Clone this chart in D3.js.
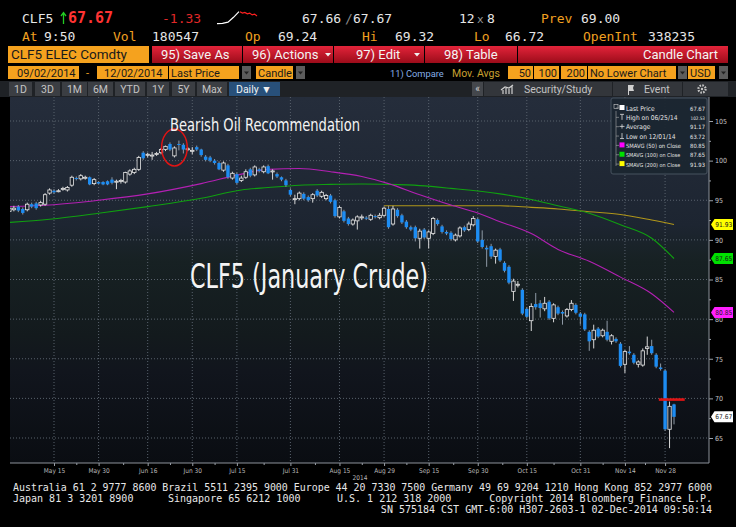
<!DOCTYPE html>
<html>
<head>
<meta charset="utf-8">
<script src="https://cdn.jsdelivr.net/npm/d3@7"></script>
<style>
  body { margin: 0; background: #000; }
  svg { display: block; }
</style>
</head>
<body>
<svg id="chart"></svg>
<script>
const width = 736;
const height = 527;
const plot = { left: 10, right: 709, top: 97, bottom: 463 };

const fontMono = "'DejaVu Sans Mono', 'Liberation Mono', monospace";
const fontUi = "Roboto, 'Open Sans', sans-serif";
const fontNarrow = "'Liberation Sans Narrow', 'DejaVu Sans Condensed', 'Roboto Condensed', Roboto, sans-serif";

// daily candles, May 1 - Dec 2 2014 (trading day index 0..149)
const opens = [93.6,93.8,94.2,93.9,93.8,94.5,94.6,94.4,94.5,95.9,96.2,96.1,96.4,96.3,96.9,97.8,97.7,97.8,97.9,97.1,
  97.3,97.3,97.4,97.6,97.3,97.4,97.3,98.3,98.5,98.9,101.0,100.7,100.6,100.8,101.0,101.4,102.1,100.6,102.1,102.0,
  101.4,101.2,101.7,101.4,100.5,100.4,100.0,99.7,98.8,99.4,97.8,98.3,97.5,97.9,98.9,98.2,98.9,98.6,99.3,98.6,
  98.3,97.9,97.5,96.3,95.1,95.2,95.8,95.4,95.2,96.2,95.5,95.2,95.6,95.0,92.9,93.6,92.7,92.0,92.4,92.8,
  92.8,92.6,93.0,92.8,93.1,93.9,92.0,93.8,93.1,92.3,91.6,91.6,90.2,91.3,90.2,90.8,92.5,91.7,91.0,90.9,
  90.0,90.5,91.6,91.3,91.9,92.6,90.0,89.0,89.2,87.9,88.8,87.1,86.6,83.5,84.3,83.7,81.3,79.8,81.9,82.0,
  81.3,82.2,80.1,81.5,80.9,80.4,81.2,81.8,80.7,80.6,78.4,77.4,78.8,77.9,78.4,77.2,77.5,76.9,74.3,75.9,
  75.5,74.3,74.2,76.3,76.6,75.5,73.9,73.5,66.1,69.24];
const highs = [94.2,94.3,94.4,94.1,94.7,94.7,94.8,94.9,95.9,96.5,96.4,96.4,96.7,96.8,98.1,98.0,98.3,98.1,98.0,97.8,
  97.4,97.4,97.5,97.9,97.6,97.7,98.6,98.9,99.1,100.6,101.2,101.0,101.1,101.1,101.6,101.9,102.3,101.8,102.53,102.2,
  101.7,101.7,101.9,101.5,100.7,100.6,100.2,99.9,99.9,99.6,98.6,98.5,98.1,98.9,99.1,99.4,99.1,99.4,99.5,98.9,
  98.5,98.0,97.7,96.5,95.7,96.1,96.0,95.6,95.9,96.4,96.2,95.8,95.8,95.2,94.3,93.8,92.9,92.7,93.1,93.2,
  93.0,93.3,93.2,93.4,94.2,94.3,94.3,94.0,93.3,92.5,91.8,91.8,91.4,91.5,91.2,92.9,92.7,91.9,91.2,91.1,
  90.8,91.7,91.8,92.3,93.0,92.8,91.2,89.3,89.5,88.9,89.0,87.3,86.8,85.1,84.8,83.9,81.5,82.0,83.3,82.4,
  82.8,82.4,82.0,81.7,81.1,81.4,82.4,82.0,80.9,80.8,78.6,79.3,79.0,78.8,79.8,78.1,77.7,77.1,76.1,76.6,
  75.7,74.8,76.3,77.8,77.4,75.7,74.4,73.7,69.6,69.32];
const lows = [93.4,93.6,93.5,93.2,93.6,94.0,93.8,94.2,94.3,95.7,95.8,96.0,96.2,96.1,96.7,97.5,97.5,97.6,96.9,96.9,
  97.0,96.9,96.9,97.0,96.4,97.1,97.1,98.1,98.3,98.7,100.1,100.4,100.1,100.6,100.8,101.2,101.2,100.4,101.3,100.9,
  101.2,100.8,101.2,100.5,99.9,99.8,99.5,98.8,98.6,97.7,97.6,97.0,97.3,97.7,97.9,98.0,98.5,98.4,98.3,97.6,
  97.8,97.4,96.7,95.5,94.5,95.0,95.0,94.8,94.7,95.4,95.3,95.0,94.6,92.8,92.7,92.2,91.8,91.8,91.3,92.5,
  92.5,92.4,92.7,92.6,92.9,91.4,91.8,92.8,92.0,91.4,91.1,89.8,88.9,90.1,88.9,90.6,91.8,90.8,90.6,89.9,
  89.8,90.3,91.0,91.1,91.7,89.6,88.9,86.6,87.6,87.0,87.2,85.9,84.4,82.3,84.0,80.5,80.1,78.5,81.2,80.2,
  81.0,79.9,79.6,80.5,79.3,80.2,81.0,80.6,79.3,78.5,76.0,76.3,77.6,77.7,77.2,76.8,77.0,73.9,73.2,75.5,
  74.3,73.9,74.0,75.5,75.5,73.8,73.5,65.9,63.72,66.72];
const closes = [94.0,94.0,93.7,93.4,94.5,94.2,94.0,94.7,95.7,96.3,96.0,96.2,96.5,96.6,97.9,97.7,98.1,97.9,97.0,97.6,
  97.1,97.0,97.0,97.2,97.4,97.5,98.5,98.7,98.9,100.4,100.3,100.8,100.7,100.9,101.4,101.8,101.4,101.6,102.0,101.4,
  101.5,101.3,101.4,100.7,100.1,100.0,99.7,98.9,99.7,97.9,98.4,97.2,97.8,98.6,98.1,99.2,98.7,99.2,98.4,98.7,
  98.0,97.6,96.9,95.7,95.2,95.9,95.2,95.0,95.7,95.6,96.0,95.6,94.8,93.0,94.1,92.4,92.0,92.5,92.9,92.9,
  92.7,93.1,92.9,93.1,94.0,91.6,93.9,93.0,92.2,91.6,91.3,90.2,91.1,90.3,91.0,92.7,92.0,91.0,90.8,90.1,
  90.6,91.5,91.2,92.0,92.7,89.8,89.1,88.8,87.9,88.7,87.4,86.1,84.6,84.8,84.4,80.7,80.3,81.6,81.5,81.4,
  82.0,80.1,81.8,80.7,80.7,81.2,82.0,80.8,80.3,78.7,77.2,78.6,77.8,78.6,77.4,77.9,77.2,74.1,75.9,75.7,
  74.5,74.6,76.0,76.5,75.7,74.0,73.7,66.1,69.0,67.67];

// moving averages as [day index, value]
const sma50 = [[0,94.2],[9,94.4],[20,95.0],[31,95.8],[43,97.1],[52,98.3],[58,98.9],[65,99.0],[72,98.6],[79,98.0],
  [85,97.1],[92,95.7],[99,94.4],[105,93.4],[110,92.3],[117,90.8],[123,88.8],[130,87.3],[137,85.3],[144,83.2],[149,80.85]];
const sma100 = [[0,92.2],[9,92.6],[20,93.35],[31,94.2],[43,95.25],[52,96.3],[58,96.6],[65,96.9],[72,97.0],[79,97.05],
  [85,97.0],[92,96.85],[99,96.5],[110,95.8],[117,95.1],[123,94.3],[130,93.35],[137,91.9],[144,90.2],[149,87.65]];
const sma200 = [[84,94.3],[92,94.3],[99,94.3],[110,94.3],[117,94.1],[123,93.9],[130,93.55],[137,93.2],[144,92.5],[149,91.93]];

const xAxisDays = [10, 20, 31, 41, 51, 63, 74, 84, 94, 105, 116, 128, 138, 147];
const xAxisLabels = ['May 15', 'May 30', 'Jun 16', 'Jun 30', 'Jul 15', 'Jul 31', 'Aug 15', 'Aug 29',
  'Sep 15', 'Sep 30', 'Oct 15', 'Oct 31', 'Nov 14', 'Nov 28'];
const priceTicks = [65, 70, 75, 80, 85, 90, 95, 100, 105];
const minorTicks = [67.5, 72.5, 77.5, 82.5, 87.5, 92.5, 97.5, 102.5];

const legendRows = [
  { label: 'Last Price', value: '67.67', icon: 'box', color: '#ffffff' },
  { label: 'High on 06/25/14', value: '102.53', icon: 'high', color: '#dddddd' },
  { label: 'Average', value: '91.17', icon: 'avg', color: '#dddddd' },
  { label: 'Low on 12/01/14', value: '63.72', icon: 'low', color: '#dddddd' },
  { label: 'SMAVG (50) on Close', value: '80.85', icon: 'box', color: '#ff00ff' },
  { label: 'SMAVG (100) on Close', value: '87.65', icon: 'box', color: '#00e000' },
  { label: 'SMAVG (200) on Close', value: '91.93', icon: 'box', color: '#ffff00' }
];
const lastTags = [
  { value: 91.93, color: '#ffff00' },
  { value: 87.65, color: '#00e000' },
  { value: 80.85, color: '#ff20ff' },
  { value: 67.67, color: '#ffffff' }
];
const sparkWhite = [0.1, 0.12, 0.2, 0.55, 0.95];
const sparkRed = [0.95, 0.85, 0.9, 0.8, 0.85, 0.72, 0.78, 0.65];

const svg = d3.select('#chart')
    .attr('width', width)
    .attr('height', height);

svg.append('rect').attr('width', width).attr('height', height).attr('fill', '#000');

const defs = svg.append('defs');
const redGrad = defs.append('linearGradient').attr('id', 'redBtn').attr('x1', 0).attr('x2', 0).attr('y1', 0).attr('y2', 1);
redGrad.append('stop').attr('offset', 0).attr('stop-color', '#e3243a');
redGrad.append('stop').attr('offset', 1).attr('stop-color', '#9c0c1a');
const bgGrad = defs.append('linearGradient').attr('id', 'plotBg').attr('x1', 0).attr('x2', 0).attr('y1', 0).attr('y2', 1);
[[0, '#252d3b'], [0.35, '#1d2531'], [0.45, '#172123'], [0.65, '#131a1d'], [0.75, '#11151d'], [1, '#0a0d12']]
  .forEach(([o, c]) => bgGrad.append('stop').attr('offset', o).attr('stop-color', c));
defs.append('clipPath').attr('id', 'clip')
  .append('rect')
  .attr('x', plot.left).attr('y', plot.top)
  .attr('width', plot.right - plot.left).attr('height', plot.bottom - plot.top);

function label(g, x, y, s, fill, size, family, anchor = 'start', weight = 'normal') {
  return g.append('text')
    .attr('x', x).attr('y', y)
    .attr('fill', fill)
    .attr('font-size', size)
    .attr('font-family', family)
    .attr('font-weight', weight)
    .attr('text-anchor', anchor)
    .text(s);
}
// shrink the font of a text until it fits maxW
function fit(t, maxW) {
  let size = +t.attr('font-size');
  while (t.node().getComputedTextLength() > maxW && size > 4) {
    size -= 0.2;
    t.attr('font-size', size);
  }
  return t;
}
function box(g, x, y, w, h, fill) {
  return g.append('rect').attr('x', x).attr('y', y).attr('width', w).attr('height', h).attr('fill', fill);
}
function dropdown(g, x, y, w, h) {
  box(g, x, y, w, h, '#5c5c5c');
  g.append('path')
    .attr('d', `M${x + w / 2 - 2.5},${y + h / 2 - 1} L${x + w / 2 + 2.5},${y + h / 2 - 1} L${x + w / 2},${y + h / 2 + 2} Z`)
    .attr('fill', '#222');
}

// ---- header ----
const header = svg.append('g');
const white = '#e6e6e6';
const amber = '#f0a020';

label(header, 22, 23, 'CLF5', white, 13, fontMono);
header.append('path').attr('d', 'M63.5,24 L63.5,13 M61,16 L63.5,12.5 L66,16')
  .attr('stroke', '#22cc22').attr('stroke-width', 1.3).attr('fill', 'none');
label(header, 68, 23, '67.67', '#ff3333', 15, fontMono, 'start', 'bold');
label(header, 162, 23, '-1.33', '#e02828', 13, fontMono);

const sx1 = d3.scaleLinear().domain([0, sparkWhite.length - 1]).range([217, 239]);
const sx2 = d3.scaleLinear().domain([0, sparkRed.length - 1]).range([240, 257]);
const sy = d3.scaleLinear().domain([0, 1]).range([25, 11]);
header.append('path').datum(sparkWhite)
  .attr('d', d3.line().x((d, i) => sx1(i)).y(d => sy(d)))
  .attr('fill', 'none').attr('stroke', '#ffffff').attr('stroke-width', 1.2);
header.append('path').datum(sparkRed)
  .attr('d', d3.line().x((d, i) => sx2(i)).y(d => sy(d)))
  .attr('fill', 'none').attr('stroke', '#ff2020').attr('stroke-width', 1.2);

label(header, 302, 23, '67.66', white, 13, fontMono);
label(header, 345, 23, '/', '#888', 13, fontMono);
label(header, 353, 23, '67.67', white, 13, fontMono);
label(header, 459, 23, '12', white, 13, fontMono);
label(header, 477, 23, 'x', '#999', 11, fontMono);
label(header, 487, 23, '8', white, 13, fontMono);
label(header, 541, 23, 'Prev', amber, 13, fontMono);
label(header, 581, 23, '69.00', white, 13, fontMono);

label(header, 22, 41, 'At', amber, 13, fontMono);
label(header, 44, 41, '9:50', white, 13, fontMono);
label(header, 113, 41, 'Vol', amber, 13, fontMono);
label(header, 152, 41, '180547', white, 13, fontMono);
label(header, 245, 41, 'Op', amber, 13, fontMono);
label(header, 278, 41, '69.24', white, 13, fontMono);
label(header, 362, 41, 'Hi', amber, 13, fontMono);
label(header, 395, 41, '69.32', white, 13, fontMono);
label(header, 474, 41, 'Lo', amber, 13, fontMono);
label(header, 505, 41, '66.72', white, 13, fontMono);
label(header, 583, 41, 'OpenInt', amber, 13, fontMono);
label(header, 648, 41, '338235', white, 13, fontMono);

// row 3: security + red buttons
box(header, 8, 46, 141, 17, '#f5a21e');
label(header, 11, 59, 'CLF5 ELEC Comdty', '#1a1a1a', 13.5, fontUi);
const buttons = [
  { x: 152, w: 90, text: '95) Save As', tx: 161 },
  { x: 243, w: 90, text: '96) Actions', tx: 252 },
  { x: 334, w: 90, text: '97) Edit', tx: 356 },
  { x: 425, w: 92, text: '98) Table', tx: 444 }
];
buttons.forEach(b => {
  box(header, b.x, 46, b.w, 17, 'url(#redBtn)');
  label(header, b.tx, 59, b.text, '#f4f4f4', 13, fontUi);
});
[325, 414].forEach(dx => {
  header.append('path').attr('d', `M${dx},53 L${dx + 6},53 L${dx + 3},56.5 Z`).attr('fill', '#f0f0f0');
});
box(header, 518, 46, 210, 17, 'url(#redBtn)');
label(header, 718, 59, 'Candle Chart', '#f4f4f4', 13, fontUi, 'end');

// row 4: range + options
box(header, 8, 66, 71, 13, '#f5a21e');
label(header, 17, 77, '09/02/2014', '#1a1a1a', 11, fontUi);
label(header, 86, 77, '-', amber, 11, fontUi);
box(header, 97, 66, 71, 13, '#f5a21e');
label(header, 104, 77, '12/02/2014', '#1a1a1a', 11, fontUi);
box(header, 169, 66, 70, 13, '#f5a21e');
label(header, 171, 77, 'Last Price', '#1a1a1a', 11, fontUi);
dropdown(header, 242, 66, 9, 13);
box(header, 256, 66, 37, 13, '#f5a21e');
label(header, 258, 77, 'Candle', '#1a1a1a', 11, fontUi);
dropdown(header, 296, 66, 9, 13);
fit(label(header, 390, 77, '11) Compare', '#86aee6', 10.5, fontUi), 54);
fit(label(header, 452, 77, 'Mov. Avgs', '#c8a030', 10.5, fontUi), 50);
[[508, 25, '50'], [534, 25, '100'], [561, 26, '200']].forEach(([bx, bw, t]) => {
  box(header, bx, 66, bw, 13, '#f5a21e');
  label(header, bx + bw - 2, 77, t, '#1a1a1a', 11, fontUi, 'end');
});
box(header, 588, 66, 88, 13, '#f5a21e');
label(header, 590, 77, 'No Lower Chart', '#1a1a1a', 11, fontUi);
dropdown(header, 678, 66, 9, 13);
box(header, 688, 66, 27, 13, '#f5a21e');
label(header, 690, 77, 'USD', '#1a1a1a', 11, fontUi);
dropdown(header, 719, 66, 9, 13);

// row 5: period buttons
box(header, 0, 81, width, 16, '#1f2226');
const periods = [['1D', 9, 23], ['3D', 35, 25], ['1M', 62, 25], ['6M', 88, 25], ['YTD', 115, 30],
  ['1Y', 147, 22], ['5Y', 172, 23], ['Max', 197, 30]];
periods.forEach(([t, bx, bw]) => {
  box(header, bx, 82, bw, 14, '#3b3e43');
  label(header, bx + bw / 2, 93, t, '#c4c4c4', 10.5, fontUi, 'middle');
});
box(header, 229, 82, 51, 14, '#28507a');
label(header, 236, 93, 'Daily \u25BC', '#f0f0f0', 10.5, fontUi);
box(header, 472, 82, 11, 14, '#44474c');
label(header, 477.5, 92, '\u00AB', '#d0d0d0', 10, fontUi, 'middle');
box(header, 484, 82, 128, 14, '#33363b');
box(header, 613, 82, 69, 14, '#33363b');
box(header, 683, 82, 45, 14, '#33363b');
header.append('path').attr('d', 'M503,94 L503,90 M506,94 L506,88 M509,94 L509,89 M512,94 L512,86 M501,90 L505,87 L509,88 L513,85')
  .attr('stroke', '#d0d0d0').attr('stroke-width', 1.2).attr('fill', 'none');
label(header, 524, 93, 'Security/Study', '#c4c4c4', 10.5, fontUi);
header.append('path').attr('d', 'M628,85 L634,85 L633,88 L634,91 L629,91 L629,95 L628,95 Z').attr('fill', '#d0d0d0');
label(header, 644, 93, 'Event', '#c4c4c4', 10.5, fontUi);
header.append('circle').attr('cx', 702).attr('cy', 89).attr('r', 3.6)
  .attr('fill', 'none').attr('stroke', '#c4c4c4').attr('stroke-width', 2.2).attr('stroke-dasharray', '1.6,1.2');
header.append('circle').attr('cx', 702).attr('cy', 89).attr('r', 1.2).attr('fill', '#c4c4c4');

// ---- plot ----
const x = d3.scaleLinear().domain([0, 149]).range([9.4, 674]);
const y = d3.scaleLinear().domain([65, 105]).range([438, 121]);

box(svg, plot.left, plot.top, plot.right - plot.left, plot.bottom - plot.top, 'url(#plotBg)');

const grid = svg.append('g').attr('clip-path', 'url(#clip)');
grid.selectAll('.hgrid')
  .data(priceTicks)
  .enter()
  .append('line')
  .attr('x1', plot.left).attr('x2', plot.right)
  .attr('y1', d => y(d)).attr('y2', d => y(d))
  .attr('stroke', '#59626d').attr('stroke-width', 1).attr('stroke-dasharray', '1,2');
grid.selectAll('.vgrid')
  .data(xAxisDays)
  .enter()
  .append('line')
  .attr('x1', d => x(d)).attr('x2', d => x(d))
  .attr('y1', plot.top).attr('y2', plot.bottom)
  .attr('stroke', '#59626d').attr('stroke-width', 1).attr('stroke-dasharray', '1,2');

const chartGroup = svg.append('g').attr('clip-path', 'url(#clip)');

// moving averages
const maLine = d3.line().x(d => x(d[0])).y(d => y(d[1])).curve(d3.curveMonotoneX);
[[sma200, '#b0961a'], [sma100, '#10a010'], [sma50, '#b320b3']].forEach(([data, color]) => {
  chartGroup.append('path').datum(data)
    .attr('d', maLine)
    .attr('fill', 'none').attr('stroke', color).attr('stroke-width', 1.1);
});

// candles
const candles = closes.map((c, i) => ({ i, o: opens[i], h: highs[i], l: lows[i], c }));
const bodyW = 3.4;
const candle = chartGroup.selectAll('.candle')
  .data(candles)
  .enter()
  .append('g');
candle.append('line')
  .attr('x1', d => x(d.i)).attr('x2', d => x(d.i))
  .attr('y1', d => y(d.h)).attr('y2', d => y(d.l))
  .attr('stroke', d => d.c >= d.o ? '#d8d8d8' : '#8f9aa6')
  .attr('stroke-width', 1);
candle.append('rect')
  .attr('x', d => x(d.i) - bodyW / 2)
  .attr('y', d => y(Math.max(d.o, d.c)))
  .attr('width', bodyW)
  .attr('height', d => Math.max(1, Math.abs(y(d.o) - y(d.c))))
  .attr('fill', d => d.c >= d.o ? '#1a2029' : '#1d8cf2')
  .attr('stroke', d => d.c >= d.o ? '#e8e8e8' : 'none')
  .attr('stroke-width', 0.8);

// annotations
chartGroup.append('line')
  .attr('x1', x(145.6)).attr('x2', x(151.4))
  .attr('y1', y(69.85)).attr('y2', y(69.85))
  .attr('stroke', '#e01414').attr('stroke-width', 2.6);
chartGroup.append('ellipse')
  .attr('cx', x(37)).attr('cy', y(101.66))
  .attr('rx', 12.8).attr('ry', 18.5)
  .attr('fill', 'none').attr('stroke', '#e01414').attr('stroke-width', 1.5);
label(svg, 170, 131, 'Bearish Oil Recommendation', '#f4f4f4', 18, fontNarrow)
  .attr('textLength', 190).attr('lengthAdjust', 'spacingAndGlyphs');
label(svg, 190, 288, 'CLF5 (January Crude)', '#f4f4f4', 33, fontNarrow)
  .attr('textLength', 238).attr('lengthAdjust', 'spacingAndGlyphs');

// legend
const legend = svg.append('g');
legend.append('rect')
  .attr('x', 611).attr('y', 98).attr('width', 96).attr('height', 76).attr('rx', 2)
  .attr('fill', '#1b2630').attr('fill-opacity', 0.95).attr('stroke', '#46525e');
legend.append('line').attr('x1', 616).attr('x2', 616).attr('y1', 111).attr('y2', 166)
  .attr('stroke', '#aaa').attr('stroke-width', 0.6);
legend.append('rect').attr('x', 614).attr('y', 104.5).attr('width', 4).attr('height', 4)
  .attr('fill', 'none').attr('stroke', '#ccc').attr('stroke-width', 0.6);
legendRows.forEach((r, k) => {
  const ry = 110.5 + k * 9.35;
  legend.append('line').attr('x1', 616).attr('x2', 619).attr('y1', ry - 2.5).attr('y2', ry - 2.5)
    .attr('stroke', '#aaa').attr('stroke-width', 0.6);
  if (r.icon === 'box') {
    legend.append('rect').attr('x', 619.5).attr('y', ry - 5.5).attr('width', 5).attr('height', 5).attr('fill', r.color);
  } else if (r.icon === 'high') {
    legend.append('path').attr('d', `M620,${ry - 5.5} L624,${ry - 5.5} M622,${ry - 5.5} L622,${ry}`)
      .attr('stroke', r.color).attr('stroke-width', 0.8);
  } else if (r.icon === 'avg') {
    legend.append('path').attr('d', `M619.5,${ry - 2.8} L624.5,${ry - 2.8} M622,${ry - 5} L622,${ry - 0.6}`)
      .attr('stroke', r.color).attr('stroke-width', 0.8);
  } else {
    legend.append('path').attr('d', `M622,${ry - 5.5} L622,${ry} M620,${ry} L624,${ry}`)
      .attr('stroke', r.color).attr('stroke-width', 0.8);
  }
  fit(label(legend, 626, ry, r.label, '#e4e4e4', 6.6, fontNarrow), 56);
  fit(label(legend, 705, ry, r.value, '#e4e4e4', 6.6, fontNarrow, 'end'), 15);
});

// axes
const yAxis = d3.axisRight(y).tickValues(priceTicks).tickSize(4).tickSizeOuter(0).tickPadding(2);
const yAxisG = svg.append('g')
  .attr('transform', `translate(${plot.right},0)`)
  .call(yAxis);
yAxisG.select('.domain').remove();
yAxisG.selectAll('line').attr('stroke', '#9aa0a8');
yAxisG.selectAll('text').attr('fill', '#c4c4c4').attr('font-size', 7).attr('font-family', fontNarrow);

const yMinor = svg.append('g')
  .attr('transform', `translate(${plot.right},0)`)
  .call(d3.axisRight(y).tickValues(minorTicks).tickSize(2).tickSizeOuter(0).tickFormat(''));
yMinor.select('.domain').remove();
yMinor.selectAll('line').attr('stroke', '#9aa0a8');

svg.append('line')
  .attr('x1', plot.right).attr('x2', plot.right)
  .attr('y1', plot.top).attr('y2', plot.bottom)
  .attr('stroke', '#8c929a');

// last value tags
const tags = svg.append('g');
lastTags.forEach(t => {
  const ty = y(t.value);
  tags.append('path')
    .attr('d', `M711,${ty} L714.5,${ty - 5.5} L733,${ty - 5.5} L733,${ty + 5.5} L714.5,${ty + 5.5} Z`)
    .attr('fill', t.color);
  fit(label(tags, 723.8, ty + 2.4, t.value.toFixed(2), '#1a1a1a', 7, fontNarrow, 'middle'), 17);
});

const xAxis = d3.axisBottom(x).tickValues(xAxisDays).tickFormat((d, i) => xAxisLabels[i]).tickSize(3).tickSizeOuter(0);
const xAxisG = svg.append('g')
  .attr('transform', `translate(0,${plot.bottom})`)
  .call(xAxis);
xAxisG.select('.domain').remove();
xAxisG.selectAll('line').attr('stroke', '#9aa0a8');
xAxisG.selectAll('text').attr('fill', '#b8b8b8').attr('font-size', 6.5).attr('font-family', fontNarrow).attr('dy', '0.55em');
const midDays = xAxisDays.slice(1).map((d, k) => (d + xAxisDays[k]) / 2);
const xMinor = svg.append('g')
  .attr('transform', `translate(0,${plot.bottom})`)
  .call(d3.axisBottom(x).tickValues(midDays).tickSize(2).tickSizeOuter(0).tickFormat(''));
xMinor.select('.domain').remove();
xMinor.selectAll('line').attr('stroke', '#9aa0a8');
svg.append('line')
  .attr('x1', plot.left).attr('x2', plot.right)
  .attr('y1', plot.bottom).attr('y2', plot.bottom)
  .attr('stroke', '#8c929a');
label(svg, 360, 480, '2014', '#b8b8b8', 6.5, fontNarrow, 'middle');

// footer
const footer = svg.append('g');
label(footer, 13, 491, 'Australia 61 2 9777 8600 Brazil 5511 2395 9000 Europe 44 20 7330 7500 Germany 49 69 9204 1210 Hong Kong 852 2977 6000',
  '#e8e8e8', 10, fontMono).attr('textLength', 699).attr('lengthAdjust', 'spacingAndGlyphs');
label(footer, 13, 502, 'Japan 81 3 3201 8900', '#e8e8e8', 10, fontMono);
label(footer, 168, 502, 'Singapore 65 6212 1000', '#e8e8e8', 10, fontMono);
label(footer, 337, 502, 'U.S. 1 212 318 2000', '#e8e8e8', 10, fontMono);
label(footer, 712, 502, 'Copyright 2014 Bloomberg Finance L.P.', '#e8e8e8', 10, fontMono, 'end');
label(footer, 712, 513, 'SN 575184 CST  GMT-6:00 H307-2603-1 02-Dec-2014 09:50:14', '#e8e8e8', 10, fontMono, 'end');
</script>
</body>
</html>
